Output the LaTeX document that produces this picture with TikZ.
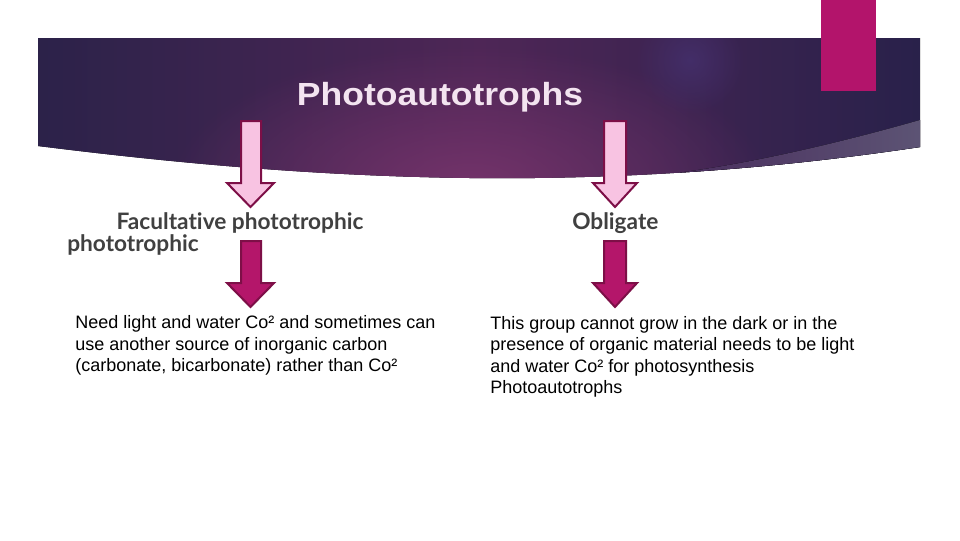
\documentclass[tikz,border=0pt]{standalone}
\usepackage{fontspec}
\setmainfont{Liberation Sans}
\newfontfamily\headfont{Lato}[Ligatures={NoCommon}]
\usetikzlibrary{fadings}
\definecolor{bannerL}{HTML}{2B2249}
\definecolor{bannerM}{HTML}{4E2656}
\definecolor{bannerR}{HTML}{28214A}
\definecolor{glowMag}{HTML}{73336A}
\definecolor{glowVio}{HTML}{45306E}
\definecolor{swooshL}{HTML}{4A2E5E}
\definecolor{swooshR}{HTML}{5D5575}
\definecolor{pinkbar}{HTML}{B3146B}
\definecolor{arrowedge}{HTML}{7D0F47}
\definecolor{arrowlightfill}{HTML}{F8C3E2}
\definecolor{arrowdarkfill}{HTML}{B4166A}
\definecolor{titlecol}{HTML}{F3E4F0}
\definecolor{headcol}{HTML}{404040}
\tikzfading[name=glowfade, inner color=transparent!0, outer color=transparent!100]
\tikzset{
  lightarrow/.style={fill=arrowlightfill, draw=arrowedge, line width=1.5pt, line join=miter},
  darkarrow/.style={fill=arrowdarkfill, draw=arrowedge, line width=1.5pt, line join=miter},
  headtext/.style={font=\headfont\bfseries\fontsize{17}{16.5}\selectfont, text=headcol, inner sep=0pt, align=left},
  bodytext/.style={font=\fontsize{13.5}{16.1}\selectfont, text=black, inner sep=0pt, align=left, anchor=north west}
}
\begin{document}
\begin{tikzpicture}[x=0.75pt,y=-0.75pt]
\useasboundingbox (0,0) rectangle (960,540);
\fill[white] (0,0) rectangle (960,540);
% banner
\begin{scope}
\clip (38,38) -- (920,38) -- (920,147) .. controls (800,165) and (650,180) .. (470,178) .. controls (300,176) and (150,160) .. (38,146) -- cycle;
\fill[left color=bannerL, right color=bannerR, middle color=bannerM] (30,30) rectangle (930,200);
\fill[glowMag, path fading=glowfade] (470,185) ellipse (300 and 140);
\fill[glowVio, path fading=glowfade, opacity=0.8] (690,60) circle (55);
\fill[left color=swooshL, right color=swooshR] (920,120) .. controls (850,140) and (760,162) .. (680,172.5) -- (680,200) -- (930,200) -- (930,120) -- cycle;
\end{scope}
\fill[pinkbar] (821,0) rectangle (876,91);
% title
\node[anchor=base, inner sep=0pt, text=titlecol, font=\bfseries\fontsize{24}{28}\selectfont] (title) at (440,105) {\scalebox{1.11}[1]{Photoautotrophs}};
% arrows left
\draw[lightarrow] (241,121) -- (261,121) -- (261,183) -- (274,183) -- (250.5,207) -- (227,183) -- (241,183) -- cycle;
\draw[darkarrow] (241,241) -- (261,241) -- (261,283) -- (274,283) -- (250.5,307) -- (227,283) -- (241,283) -- cycle;
% arrows right
\draw[lightarrow] (604,121) -- (626,121) -- (626,183) -- (637,183) -- (615,207) -- (593,183) -- (604,183) -- cycle;
\draw[darkarrow] (604,241) -- (626,241) -- (626,283) -- (637,283) -- (615,307) -- (593,283) -- (604,283) -- cycle;
% headings
\node[headtext, anchor=north west] (fac) at (67,212.5) {\hspace*{37pt}Facultative phototrophic\\phototrophic};
\node[headtext, anchor=base west] (obl) at (572,229) {Obligate};
% bodies
\node[bodytext] (facdesc) at (75,315.6) {Need light and water Co² and sometimes can\\use another source of inorganic carbon\\(carbonate, bicarbonate) rather than Co²};
\node[bodytext] (obldesc) at (490,316) {This group cannot grow in the dark or in the\\presence of organic material needs to be light\\and water Co² for photosynthesis\\Photoautotrophs};
\end{tikzpicture}
\end{document}
